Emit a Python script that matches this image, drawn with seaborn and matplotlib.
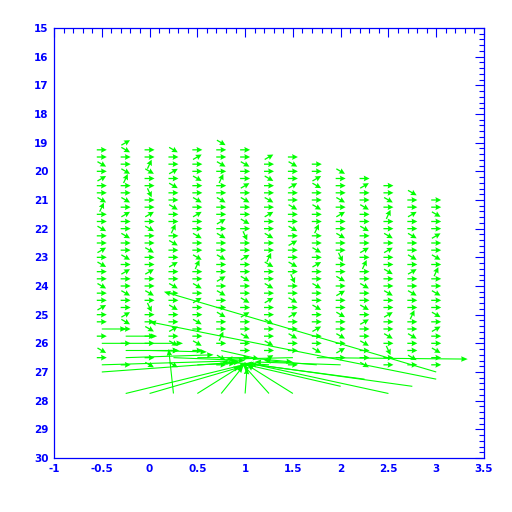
import numpy as np
import matplotlib
matplotlib.use("Agg")
import matplotlib.pyplot as plt
import seaborn as sns
from matplotlib.ticker import MultipleLocator, FixedLocator, FixedFormatter

# grid columns of the vector field and where each column starts (y, top)
columns = [-0.5, -0.25, 0.0, 0.25, 0.5, 0.75, 1.0, 1.25, 1.5, 1.75, 2.0, 2.25, 2.5, 2.75, 3.0]
column_top = [19.25, 19.0, 19.25, 19.25, 19.25, 19.0, 19.25, 19.5, 19.5, 19.75, 20.0, 20.25, 20.5, 20.75, 21.0]
row_bottom = 26.75
row_step = 0.25

# direction of the small arrows, one letter per row (top to bottom)
direction_codes = [
    "rrdrurrdUrrdrrurdrrdrrurrdrrdrrr",
    "udrrdUrrdrurrdrrdrurrdrrudrrrdrr",
    "rrUdrrDrrurdrrdrrurrdrDrrdrrurdr",
    "drrurdrrdrrUrdrrurrdrrdrrurdrrdr",
    "rurrdrrdrurrdrrdUrrdrurrdrrdrurr",
    "drrdrUrrdrrurdrrdrrurdrrdrrUrrdr",
    "rrdrrurdrrdrDrrurrdrrdrurrdrrdrr",
    "urrdrrdrurrdrrUdrrdrurrdrrdrurrd",
    "rdrrurrdrrdrurrdrDrrdrurrdrrdrrr",
    "rrudrrdrrUrrdrurrdrrdrrurrdrrdrr",
    "drrrdrurrdrrDrrdrurrdrrdrurrdrrr",
    "rurrdrrdrrurUrrdrrdrurrdrrdrrurr",
    "rrdrUrrdrurrdrrdrrurrdrDrrdrrurr",
    "drrurrdrrdrurrdrrUrrdrrdrurrdrrr",
    "rrdrrurrdrUrrdrrdrurrdrrdrrurrdr",
]
code_angle = {"r": 0, "u": 30, "d": -30, "U": 65, "D": -65, "l": 180}
small_len_px = 10

# long arrows: start (x, y) and vector (u, v) in data units
long_x = [-0.25, 0.0, 0.25, 0.5, 0.75, 1.0, 1.25, 1.5, 2.0, 2.5, 2.75, 2.25,
          -0.5, -0.5, -0.25, -0.25, -0.25, -0.5, -0.5,
          3.0, 3.0, 1.75,
          0.0, 0.25, 0.5, 1.5, 1.25, 0.75, 1.0, 2.0, 0.5, 1.75]
long_y = [27.75, 27.75, 27.75, 27.75, 27.75, 27.75, 27.75, 27.75, 27.5, 27.75, 27.5, 27.25,
          25.5, 26.0, 25.75, 26.25, 26.5, 26.75, 27.0,
          27.0, 27.25, 26.5,
          26.25, 26.5, 26.5, 26.5, 26.75, 26.25, 26.5, 26.75, 26.75, 26.75]
long_u = [1.27, 0.95, -0.05, 0.48, 0.23, 0.02, -0.27, -0.48, -0.98, -1.45, -1.73, -1.25,
          0.26, 0.85, 0.33, 0.56, 0.92, 1.42, 1.45,
          -2.85, -3.0, 1.58,
          0.6, 0.75, 0.55, -0.7, -0.5, 0.4, 0.5, -0.9, 0.4, -0.55]
long_v = [-1.03, -0.92, -1.55, -1.0, -0.95, -0.9, -1.0, -1.0, -0.75, -1.05, -0.8, -0.55,
          0.0, 0.0, 0.0, 0.0, -0.1, -0.14, -0.35,
          -2.8, -2.0, 0.05,
          0.05, 0.1, 0.0, 0.05, -0.1, 0.3, 0.15, -0.1, -0.05, -0.15]

sns.set_style("white")
plt.rcParams["font.family"] = ["DejaVu Sans"]

fig = plt.figure(figsize=(5.12, 5.12), dpi=100)
ax = fig.add_axes([0.1055, 0.1055, 0.8398, 0.8398])

taken = set(zip(long_x, long_y))
sx, sy, sang = [], [], []
for x, top, codes in zip(columns, column_top, direction_codes):
    rows = np.arange(top, row_bottom + 0.01, row_step)
    for y, c in zip(rows, codes):
        if (x, round(y, 2)) in taken:
            continue
        sx.append(x)
        sy.append(y)
        sang.append(code_angle[c])
sx = np.array(sx)
sy = np.array(sy)
su = np.full(len(sx), float(small_len_px))
sv = np.zeros(len(sx))

green = "#00ff00"
ax.quiver(sx, sy, su, sv, angles=np.array(sang, dtype=float), scale_units="dots", scale=1,
          units="dots", width=1.3, headwidth=4.5, headlength=4.5, headaxislength=4,
          pivot="middle", color=green)
ax.quiver(long_x, long_y, long_u, long_v, angles="xy", scale_units="xy", scale=1,
          units="dots", width=1.1, headwidth=5, headlength=6, headaxislength=5.5,
          color=green)

ax.set_xlim(-1, 3.5)
ax.set_ylim(30, 15)

blue = "#0000ff"
x_ticks = [-1, -0.5, 0, 0.5, 1, 1.5, 2, 2.5, 3, 3.5]
x_labels = ["-1", "-0.5", "0", "0.5", "1", "1.5", "2", "2.5", "3", "3.5"]
y_ticks = list(range(15, 31))
y_labels = [str(v) for v in y_ticks]
ax.xaxis.set_major_locator(FixedLocator(x_ticks))
ax.xaxis.set_major_formatter(FixedFormatter(x_labels))
ax.xaxis.set_minor_locator(MultipleLocator(0.1))
ax.yaxis.set_major_locator(FixedLocator(y_ticks))
ax.yaxis.set_major_formatter(FixedFormatter(y_labels))
ax.yaxis.set_minor_locator(MultipleLocator(0.2))

ax.tick_params(which="both", direction="in", top=True, right=True, colors=blue,
               labelcolor=blue, width=0.8, labelsize=7.5)
ax.tick_params(which="major", length=6.5, pad=4)
ax.tick_params(which="minor", length=3.4)
for lab in ax.get_xticklabels() + ax.get_yticklabels():
    lab.set_fontweight("bold")
for s in ax.spines.values():
    s.set_color(blue)
    s.set_linewidth(0.9)

fig.savefig("out.png", dpi=100)
